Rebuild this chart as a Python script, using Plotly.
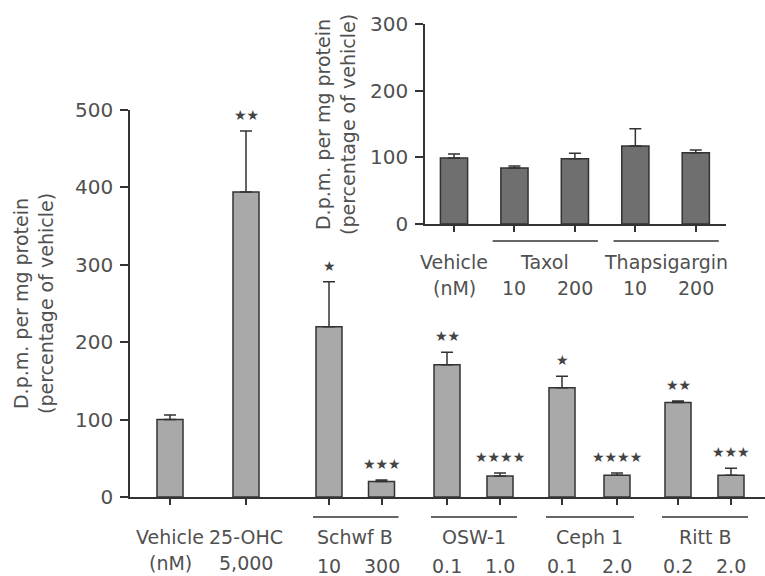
import plotly.graph_objects as go

# ---------------- data ----------------
main_groups = ["Vehicle", "25-OHC", "Schwf B", "Schwf B", "OSW-1", "OSW-1",
               "Ceph 1", "Ceph 1", "Ritt B", "Ritt B"]
main_doses = ["(nM)", "5,000", "10", "300", "0.1", "1.0", "0.1", "2.0", "0.2", "2.0"]
main_values = [100, 394, 220, 20, 171, 27, 141, 28, 122, 28]
main_err = [6, 79, 58, 2, 16, 4, 15, 3, 2, 9]
main_stars = ["", "★★", "★", "★★★", "★★", "★★★★", "★", "★★★★", "★★", "★★★"]
main_yticks = [0, 100, 200, 300, 400, 500]

inset_groups = ["Vehicle", "Taxol", "Taxol", "Thapsigargin", "Thapsigargin"]
inset_doses = ["(nM)", "10", "200", "10", "200"]
inset_values = [99, 84, 98, 117, 107]
inset_err = [6, 3, 8, 26, 4]
inset_yticks = [0, 100, 200, 300]

y_title = "D.p.m. per mg protein<br>(percentage of vehicle)"

# ---------------- layout helpers ----------------
W, H = 765, 576
FONT = "DejaVu Sans"
TXT = "#505050"
DARK = "#333333"
FS = 19

def px(x):
    return x / W

def py(y):
    return 1 - y / H

# slot positions along the main x axis (layout, not data)
main_pos = [40, 116, 199, 251.5, 317, 370, 432, 487, 548, 601]
inset_pos = list(range(len(inset_values)))

fig = go.Figure()

fig.add_trace(go.Bar(
    x=main_pos, y=main_values, width=26,
    marker=dict(color="#a9a9a9", line=dict(color=DARK, width=1.5)),
    error_y=dict(type="data", symmetric=False, array=main_err,
                 arrayminus=[0] * len(main_err), color=DARK, thickness=1.5, width=6),
    xaxis="x", yaxis="y", showlegend=False, hoverinfo="skip"))

fig.add_trace(go.Bar(
    x=inset_pos, y=inset_values, width=0.45,
    marker=dict(color="#6f6f6f", line=dict(color=DARK, width=1.5)),
    error_y=dict(type="data", symmetric=False, array=inset_err,
                 arrayminus=[0] * len(inset_err), color=DARK, thickness=1.5, width=6),
    xaxis="x2", yaxis="y2", showlegend=False, hoverinfo="skip"))

annotations = []
shapes = []

# stars
for xp, v, e, s in zip(main_pos, main_values, main_err, main_stars):
    if s:
        annotations.append(dict(x=xp, y=v + e, xref="x", yref="y", text=s,
                                showarrow=False, yshift=16,
                                font=dict(family=FONT, size=14, color="#444444")))

def add_group_labels(groups, doses, pos, xref, row1_y, row2_y, dose_y, line_y,
                     line_left, line_right):
    i = 0
    while i < len(groups):
        j = i
        while j + 1 < len(groups) and groups[j + 1] == groups[i]:
            j += 1
        if j == i:
            annotations.append(dict(x=pos[i], y=py(row1_y), xref=xref, yref="paper",
                                    text=groups[i], showarrow=False, yanchor="middle",
                                    font=dict(family=FONT, size=FS, color=TXT)))
            annotations.append(dict(x=pos[i], y=py(row2_y), xref=xref, yref="paper",
                                    text=doses[i], showarrow=False, yanchor="middle",
                                    font=dict(family=FONT, size=FS, color=TXT)))
        else:
            cx = (pos[i] + pos[j]) / 2
            annotations.append(dict(x=cx, y=py(row1_y), xref=xref, yref="paper",
                                    text=groups[i], showarrow=False, yanchor="middle",
                                    font=dict(family=FONT, size=FS, color=TXT)))
            for k in range(i, j + 1):
                annotations.append(dict(x=pos[k], y=py(dose_y), xref=xref, yref="paper",
                                        text=doses[k], showarrow=False, yanchor="middle",
                                        font=dict(family=FONT, size=FS, color=TXT)))
            shapes.append(dict(type="line", xref=xref, yref="paper",
                               x0=pos[i] - line_left, x1=pos[j] + line_right,
                               y0=py(line_y), y1=py(line_y),
                               line=dict(color=DARK, width=1.5)))
        i = j + 1

add_group_labels(main_groups, main_doses, main_pos, "x", 537, 563, 566, 517, 16, 17)
add_group_labels(inset_groups, inset_doses, inset_pos, "x2", 262, 288, 288, 241, 0.36, 0.38)

# y titles
annotations.append(dict(x=px(33), y=py(304), xref="paper", yref="paper", text=y_title,
                        textangle=-90, showarrow=False, xanchor="center", yanchor="middle",
                        font=dict(family=FONT, size=19, color=TXT)))
annotations.append(dict(x=px(336), y=py(125), xref="paper", yref="paper", text=y_title,
                        textangle=-90, showarrow=False, xanchor="center", yanchor="middle",
                        font=dict(family=FONT, size=19, color=TXT)))

axis_common = dict(showgrid=False, zeroline=False, showline=True, linecolor=DARK,
                   linewidth=1.5, ticks="outside", tickcolor=DARK, tickwidth=1.5,
                   automargin=False)

fig.update_layout(
    template="none",
    width=W, height=H, margin=dict(l=0, r=0, t=0, b=0, pad=0, autoexpand=False),
    paper_bgcolor="white", plot_bgcolor="rgba(0,0,0,0)",
    barmode="overlay", showlegend=False,
    xaxis=dict(domain=[px(130), 1], range=[0, 635], tickvals=main_pos,
               showticklabels=False, ticklen=6, anchor="y", **axis_common),
    yaxis=dict(domain=[py(497), py(110)], range=[0, 500], tickvals=main_yticks,
               ticklen=8, anchor="x", ticklabelstandoff=3,
               tickfont=dict(family=FONT, size=20, color=TXT), **axis_common),
    xaxis2=dict(domain=[px(425), px(726)], range=[-0.48, 4.5], tickvals=inset_pos,
                showticklabels=False, ticklen=6, anchor="y2", **axis_common),
    yaxis2=dict(domain=[py(224), py(24)], range=[0, 300], tickvals=inset_yticks,
                ticklen=8, anchor="x2", ticklabelstandoff=3,
                tickfont=dict(family=FONT, size=20, color=TXT), **axis_common),
    annotations=annotations, shapes=shapes,
)

fig.write_html("out.html", config={"displayModeBar": False},
               post_script="document.body.style.margin='0';"
                           "document.body.style.overflow='hidden';")
